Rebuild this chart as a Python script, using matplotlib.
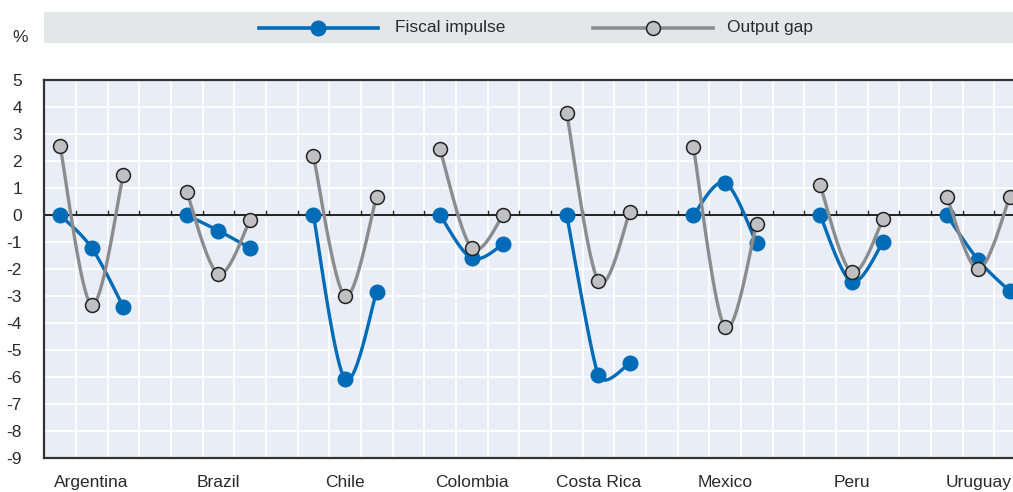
import numpy as np
import matplotlib
matplotlib.use("Agg")
import matplotlib.pyplot as plt
from matplotlib.lines import Line2D
from matplotlib.patches import Rectangle

plt.rcParams['font.family'] = ['Liberation Sans Narrow', 'Liberation Sans', 'DejaVu Sans']

countries = ["Argentina", "Brazil", "Chile", "Colombia", "Costa Rica", "Mexico", "Peru", "Uruguay"]
fiscal_impulse = [
    [0.0, -1.22, -3.40],
    [0.0, -0.58, -1.22],
    [0.0, -6.07, -2.85],
    [0.0, -1.60, -1.08],
    [0.0, -5.93, -5.49],
    [0.0, 1.20, -1.05],
    [0.0, -2.47, -0.99],
    [0.0, -1.67, -2.83],
]
output_gap = [
    [2.57, -3.33, 1.50],
    [0.86, -2.18, -0.20],
    [2.20, -3.00, 0.68],
    [2.43, -1.22, 0.00],
    [3.78, -2.44, 0.12],
    [2.53, -4.16, -0.33],
    [1.12, -2.12, -0.14],
    [0.68, -2.01, 0.68],
]
yticks = list(range(-9, 6))

BLUE = "#006BB6"
GREY_LINE = "#8C8C8E"
GREY_FACE = "#C0C0C2"
BG = "#E9EDF6"
TXT = "#2A2A2A"

W, H = 1013, 492
slot = 950 / 30.0
unit_y = (458 - 80) / 14.0


def _f(p0, p1, p2):
    d01 = np.hypot(*(p1 - p0))
    d12 = np.hypot(*(p2 - p1))
    d02 = np.hypot(*(p2 - p0))
    if d01 == 0 or d12 == 0:
        return 1 / 6.0
    if d02 == 0:
        return 0.0
    if d02 / 6 < d12 / 2 and d02 / 6 < d01 / 2:
        return 1 / 6.0
    if d12 < d01:
        return d12 / (2 * d02)
    return d01 / (2 * d02)


def smooth(xs, ys, n=50):
    # Excel-like smoothed line, computed in screen-proportional space
    pts = np.column_stack([np.asarray(xs, float) * slot, np.asarray(ys, float) * unit_y])
    out = [pts[0]]
    m = len(pts)
    for i in range(m - 1):
        p0 = pts[i - 1] if i > 0 else pts[i]
        p1 = pts[i]
        p2 = pts[i + 1]
        p3 = pts[i + 2] if i + 2 < m else pts[i + 1]
        b1 = p1 + _f(p0, p1, p2) * (p2 - p0)
        b2 = p2 - _f(p1, p2, p3) * (p3 - p1)
        t = np.linspace(0, 1, n)[1:, None]
        seg = ((1 - t) ** 3) * p1 + 3 * ((1 - t) ** 2) * t * b1 + 3 * (1 - t) * t ** 2 * b2 + t ** 3 * p2
        out.extend(seg)
    out = np.array(out)
    return out[:, 0] / slot, out[:, 1] / unit_y


fig = plt.figure(figsize=(W / 100, H / 100), dpi=100)

left_px = 60 - slot / 2
ax = fig.add_axes([left_px / W, 34 / H, 32 * slot / W, (458 - 80) / H])
ax.set_facecolor(BG)
ax.set_xlim(-0.5, 31.5)
ax.set_ylim(-9, 5)

# grid
for k in range(32):
    ax.axvline(k + 0.5, color="white", lw=1.3, zorder=0)
for v in yticks:
    ax.axhline(v, color="white", lw=1.3, zorder=0)
ax.axhline(0, color="#222222", lw=1.4, zorder=1)
for k in range(32):
    ax.plot([k + 0.5, k + 0.5], [0, 0.16], color="#222222", lw=1.0, zorder=1)

for ci, c in enumerate(countries):
    xs = [ci * 4 + j for j in range(3)]
    sx, sy = smooth(xs, fiscal_impulse[ci])
    ax.plot(sx, sy, color=BLUE, lw=2.4, zorder=3, solid_capstyle="round")
    ax.plot(xs, fiscal_impulse[ci], "o", color=BLUE, ms=10.5, mec=BLUE, zorder=4)
for ci, c in enumerate(countries):
    xs = [ci * 4 + j for j in range(3)]
    sx, sy = smooth(xs, output_gap[ci])
    ax.plot(sx, sy, color=GREY_LINE, lw=2.4, zorder=5, solid_capstyle="round")
    ax.plot(xs, output_gap[ci], "o", color=GREY_FACE, ms=10, mec="#222222", mew=1.1, zorder=6)

ax.set_yticks(yticks)
ax.set_yticklabels([str(v) for v in yticks], fontsize=12.5, color=TXT)
ax.set_xticks([ci * 4 + 1 for ci in range(len(countries))])
ax.set_xticklabels(countries, fontsize=12.5, color=TXT)
ax.tick_params(axis="x", length=0, pad=12)
ax.tick_params(axis="y", length=0, pad=16)
for s in ["top", "left", "bottom"]:
    ax.spines[s].set_color("#333333")
    ax.spines[s].set_linewidth(1.6)
ax.spines["right"].set_visible(False)

# legend
fig.patches.append(Rectangle((44 / W, 1 - 43 / H), 1.0, 31 / H, transform=fig.transFigure,
                             facecolor="#E5E6E8", edgecolor="none", zorder=0))
ly = 1 - 27.5 / H
fig.lines.append(Line2D([259 / W, 378 / W], [ly, ly], transform=fig.transFigure, color=BLUE, lw=2.6))
fig.lines.append(Line2D([318 / W], [ly], transform=fig.transFigure, marker="o", color=BLUE, ms=10.5))
fig.text(395 / W, ly, "Fiscal impulse", fontsize=12.5, color=TXT, va="center", ha="left")
fig.lines.append(Line2D([593 / W, 713 / W], [ly, ly], transform=fig.transFigure, color=GREY_LINE, lw=2.6))
fig.lines.append(Line2D([653 / W], [ly], transform=fig.transFigure, marker="o", color=GREY_FACE,
                        mec="#222222", mew=1.1, ms=10))
fig.text(727 / W, ly, "Output gap", fontsize=12.5, color=TXT, va="center", ha="left")
fig.text(20 / W, 1 - 37 / H, "%", fontsize=12.5, color=TXT, va="center", ha="center")

fig.savefig("out.png", dpi=100)
